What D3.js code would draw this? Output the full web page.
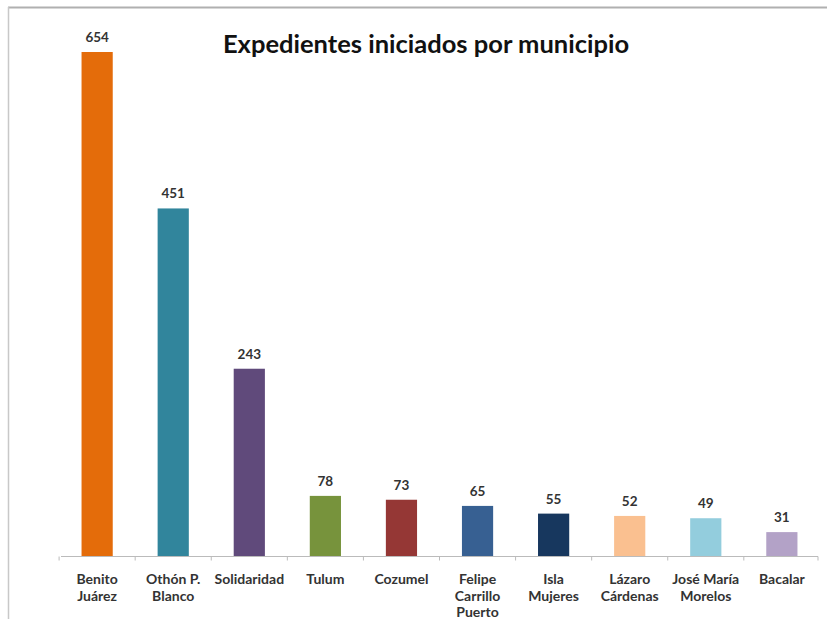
<!DOCTYPE html>
<html><head><meta charset="utf-8">
<script src="https://cdn.jsdelivr.net/npm/d3@7"></script>
<style>body{margin:0;background:#fff}svg{display:block}</style>
</head><body>
<script>
const title = "Expedientes iniciados por municipio";
const municipios = ["Benito Juárez","Othón P. Blanco","Solidaridad","Tulum","Cozumel","Felipe Carrillo Puerto","Isla Mujeres","Lázaro Cárdenas","José María Morelos","Bacalar"];
const labelLines = [["Benito","Juárez"],["Othón P.","Blanco"],["Solidaridad"],["Tulum"],["Cozumel"],["Felipe","Carrillo","Puerto"],["Isla","Mujeres"],["Lázaro","Cárdenas"],["José María","Morelos"],["Bacalar"]];
const expedientes = [654,451,243,78,73,65,55,52,49,31];
const colores = ["#E46C0A","#31859C","#604A7B","#77933C","#953735","#376092","#17375E","#FAC090","#93CDDD","#B3A2C7"];

const W = 827, H = 619;
const svg = d3.select("body").append("svg").attr("width", W).attr("height", H);
const font = "Lato, 'Open Sans', sans-serif";

// frame lines
svg.append("line").attr("x1",8).attr("x2",W).attr("y1",7.5).attr("y2",7.5).attr("stroke","#b0b0b0").attr("stroke-width",2);
svg.append("line").attr("x1",8.5).attr("x2",8.5).attr("y1",7).attr("y2",H).attr("stroke","#c8c8c8").attr("stroke-width",1.5);

const x = d3.scaleBand().domain(municipios).range([61, 818]).paddingInner(0.59).paddingOuter(0.27);
const y = d3.scaleLinear().domain([0, 654]).range([556, 52]);

svg.append("text").attr("x", 426).attr("y", 53).attr("text-anchor","middle")
  .attr("font-family", font).attr("font-weight","bold").attr("font-size", 25.5).attr("fill","#111").text(title);

svg.selectAll("rect.bar").data(expedientes).join("rect").attr("class","bar")
  .attr("x",(d,i)=>x(municipios[i])).attr("width",x.bandwidth())
  .attr("y",d=>y(d)).attr("height",d=>y(0)-y(d)).attr("fill",(d,i)=>colores[i]);

svg.selectAll("text.val").data(expedientes).join("text").attr("class","val")
  .attr("x",(d,i)=>x(municipios[i])+x.bandwidth()/2).attr("y",d=>y(d)-10)
  .attr("text-anchor","middle").attr("font-family",font).attr("font-weight","bold")
  .attr("font-size",13.5).attr("fill","#333").text(d=>d);

// axis
const axis = d3.axisBottom(x).tickSize(0).tickFormat("");
const g = svg.append("g").attr("transform","translate(0,556.5)").call(axis);
g.select(".domain").attr("stroke","#bbb").attr("d","M61,0H818");
const bounds = municipios.map(m=>x(m)-x.step()*x.paddingInner()/2).concat([818]);
g.selectAll("line.tk").data(bounds).join("line").attr("class","tk")
  .attr("x1",d=>d).attr("x2",d=>d).attr("y1",0).attr("y2",4).attr("stroke","#bbb");

const lab = svg.selectAll("text.cat").data(municipios).join("text").attr("class","cat")
  .attr("x",d=>x(d)+x.bandwidth()/2).attr("y",584).attr("text-anchor","middle")
  .attr("font-family",font).attr("font-weight","bold").attr("font-size",14).attr("fill","#333");
lab.each(function(d,i){
  d3.select(this).selectAll("tspan").data(labelLines[i]).join("tspan")
    .attr("x",x(d)+x.bandwidth()/2).attr("dy",(t,j)=>j===0?0:16.5).text(t=>t);
});
</script>
</body></html>
